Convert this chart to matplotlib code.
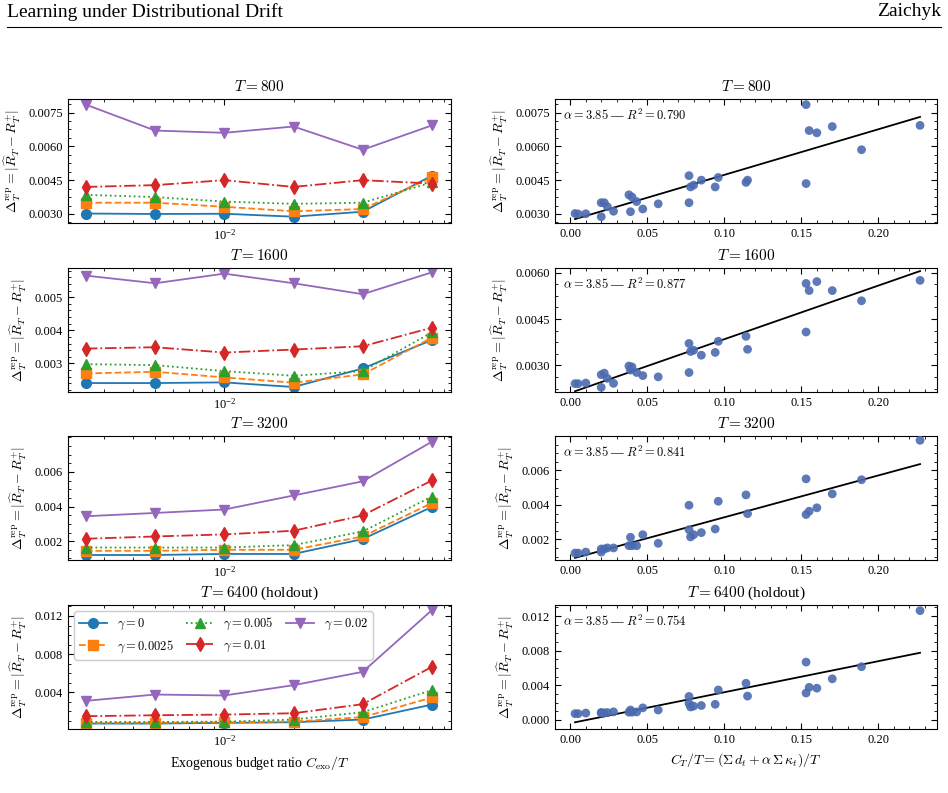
import matplotlib
matplotlib.use("Agg")
import matplotlib.pyplot as plt
import numpy as np
from matplotlib.lines import Line2D
from matplotlib.ticker import AutoMinorLocator

plt.rcParams["font.family"] = "Liberation Serif"
plt.rcParams["mathtext.fontset"] = "cm"

budget_ratio = [0.0025, 0.005, 0.01, 0.02, 0.04, 0.08]
gammas = ["0", "0.0025", "0.005", "0.01", "0.02"]
horizons = ["800", "1600", "3200", "6400"]
r2_values = ["0.790", "0.877", "0.841", "0.754"]

# C_T / T per (gamma, budget)
cost_ratio = [
    [0.003, 0.005, 0.010, 0.020, 0.039, 0.077],
    [0.020, 0.022, 0.024, 0.028, 0.047, 0.096],
    [0.038, 0.040, 0.043, 0.057, 0.077, 0.114],
    [0.078, 0.080, 0.085, 0.094, 0.115, 0.153],
    [0.153, 0.155, 0.160, 0.170, 0.189, 0.227],
]

delta_800 = [
    [0.00302, 0.00300, 0.00301, 0.00288, 0.00310, 0.00470],
    [0.00350, 0.00350, 0.00332, 0.00312, 0.00322, 0.00462],
    [0.00385, 0.00375, 0.00355, 0.00345, 0.00350, 0.00440],
    [0.00420, 0.00428, 0.00450, 0.00420, 0.00450, 0.00435],
    [0.00785, 0.00670, 0.00660, 0.00688, 0.00585, 0.00693],
]
delta_1600 = [
    [0.00241, 0.00241, 0.00243, 0.00229, 0.00285, 0.00371],
    [0.00270, 0.00275, 0.00258, 0.00242, 0.00267, 0.00378],
    [0.00298, 0.00295, 0.00277, 0.00263, 0.00277, 0.00394],
    [0.00345, 0.00349, 0.00333, 0.00342, 0.00352, 0.00408],
    [0.00565, 0.00542, 0.00571, 0.00542, 0.00509, 0.00575],
]
delta_3200 = [
    [0.00120, 0.00120, 0.00126, 0.00126, 0.00212, 0.00398],
    [0.00144, 0.00144, 0.00150, 0.00150, 0.00227, 0.00421],
    [0.00163, 0.00163, 0.00163, 0.00177, 0.00256, 0.00458],
    [0.00214, 0.00227, 0.00239, 0.00260, 0.00349, 0.00551],
    [0.00344, 0.00363, 0.00383, 0.00464, 0.00546, 0.00775],
]
delta_6400 = [
    [0.00073, 0.00073, 0.00080, 0.00087, 0.00115, 0.00272],
    [0.00080, 0.00082, 0.00086, 0.00094, 0.00140, 0.00346],
    [0.00090, 0.00090, 0.00093, 0.00115, 0.00192, 0.00424],
    [0.00150, 0.00160, 0.00167, 0.00181, 0.00276, 0.00668],
    [0.00311, 0.00377, 0.00367, 0.00475, 0.00615, 0.01262],
]
deltas = [delta_800, delta_1600, delta_3200, delta_6400]

colors = ["#1f77b4", "#ff7f0e", "#2ca02c", "#d62728", "#9467bd"]
markers = ["o", "s", "^", "d", "v"]
styles = ["-", "--", ":", "-.", "-"]

left_ylim = [(0.0026, 0.0081), (0.00214, 0.00588), (0.00091, 0.00808), (0.00016, 0.01315)]
right_ylim = [(0.0026, 0.0081), (0.00214, 0.00615), (0.00080, 0.00800), (-0.00104, 0.01327)]
left_yticks = [[0.0030, 0.0045, 0.0060, 0.0075], [0.003, 0.004, 0.005],
               [0.002, 0.004, 0.006], [0.004, 0.008, 0.012]]
right_yticks = [[0.0030, 0.0045, 0.0060, 0.0075], [0.0030, 0.0045, 0.0060],
                [0.002, 0.004, 0.006], [0.000, 0.004, 0.008, 0.012]]
tick_fmt = ["{:.4f}", "{:.3f}", "{:.3f}", "{:.3f}"]
right_fmt = ["{:.4f}", "{:.4f}", "{:.3f}", "{:.3f}"]

ylabel = r"$\Delta_T^{\rm rep} = |\widehat{R}_T - R_T^{+}|$"

W, H = 948, 793
fig = plt.figure(figsize=(W / 100, H / 100), dpi=100)
fig.text(7 / W, 1 - 12 / H, "Learning under Distributional Drift", fontsize=14, va="center")
fig.text(1 - 7 / W, 1 - 12 / H, "Zaichyk", fontsize=14, va="center", ha="right")
fig.add_artist(Line2D([7 / W, 1 - 7 / W], [1 - 27 / H, 1 - 27 / H], color="black", lw=0.8))

row_top = [99, 268, 436, 605]
row_bot = [223, 392, 560, 729]


def style_axis(ax):
    ax.tick_params(which="both", direction="in", top=True, right=True, labelsize=9)
    ax.tick_params(which="major", length=4)
    ax.tick_params(which="minor", length=2)


for r in range(4):
    h = (row_bot[r] - row_top[r]) / H
    y0 = 1 - row_bot[r] / H
    axl = fig.add_axes([68 / W, y0, (451 - 68) / W, h])
    axr = fig.add_axes([555 / W, y0, (937 - 555) / W, h])
    title = rf"$T = {horizons[r]}$" + (" (holdout)" if r == 3 else "")

    for g in range(5):
        axl.plot(budget_ratio, deltas[r][g], color=colors[g], marker=markers[g],
                 linestyle=styles[g], markersize=7, lw=1.3, label=rf"$\gamma = {gammas[g]}$")
    axl.set_xscale("log")
    axl.set_xlim(0.00209, 0.0968)
    axl.set_ylim(*left_ylim[r])
    axl.set_yticks(left_yticks[r])
    axl.set_yticklabels([tick_fmt[r].format(v) for v in left_yticks[r]])
    axl.yaxis.set_minor_locator(AutoMinorLocator())
    axl.set_title(title, fontsize=11)
    axl.set_ylabel(ylabel, fontsize=10)
    style_axis(axl)

    xs = np.ravel(cost_ratio)
    ys = np.ravel(deltas[r])
    axr.scatter(xs, ys, s=40, color="#4c6bb0", alpha=0.9, edgecolors="none", zorder=3)
    slope, icpt = np.polyfit(xs, ys, 1)
    xf = np.array([xs.min(), xs.max()])
    axr.plot(xf, slope * xf + icpt, color="black", lw=1.3)
    axr.text(0.02, 0.93, rf"$\alpha = 3.85$ — $R^2 = {r2_values[r]}$", transform=axr.transAxes,
             fontsize=9, va="top")
    axr.set_xlim(-0.01, 0.238)
    axr.set_ylim(*right_ylim[r])
    axr.set_yticks(right_yticks[r])
    axr.set_yticklabels([right_fmt[r].format(v) for v in right_yticks[r]])
    axr.set_xticks([0.0, 0.05, 0.10, 0.15, 0.20])
    axr.set_xticklabels(["0.00", "0.05", "0.10", "0.15", "0.20"])
    axr.xaxis.set_minor_locator(AutoMinorLocator())
    axr.yaxis.set_minor_locator(AutoMinorLocator())
    axr.set_title(title, fontsize=11)
    axr.set_ylabel(ylabel, fontsize=10)
    style_axis(axr)

    if r == 3:
        axl.set_xlabel(r"Exogenous budget ratio $C_{\rm exo}/T$", fontsize=10)
        axr.set_xlabel(r"$C_T/T = (\Sigma\, d_t + \alpha\, \Sigma\, \kappa_t)/T$", fontsize=10)
        axl.legend(loc="upper left", ncol=3, fontsize=9, handlelength=2.2,
                   columnspacing=1.0, borderpad=0.4, framealpha=1.0, edgecolor="#cccccc")

fig.savefig("out.png", dpi=100)
